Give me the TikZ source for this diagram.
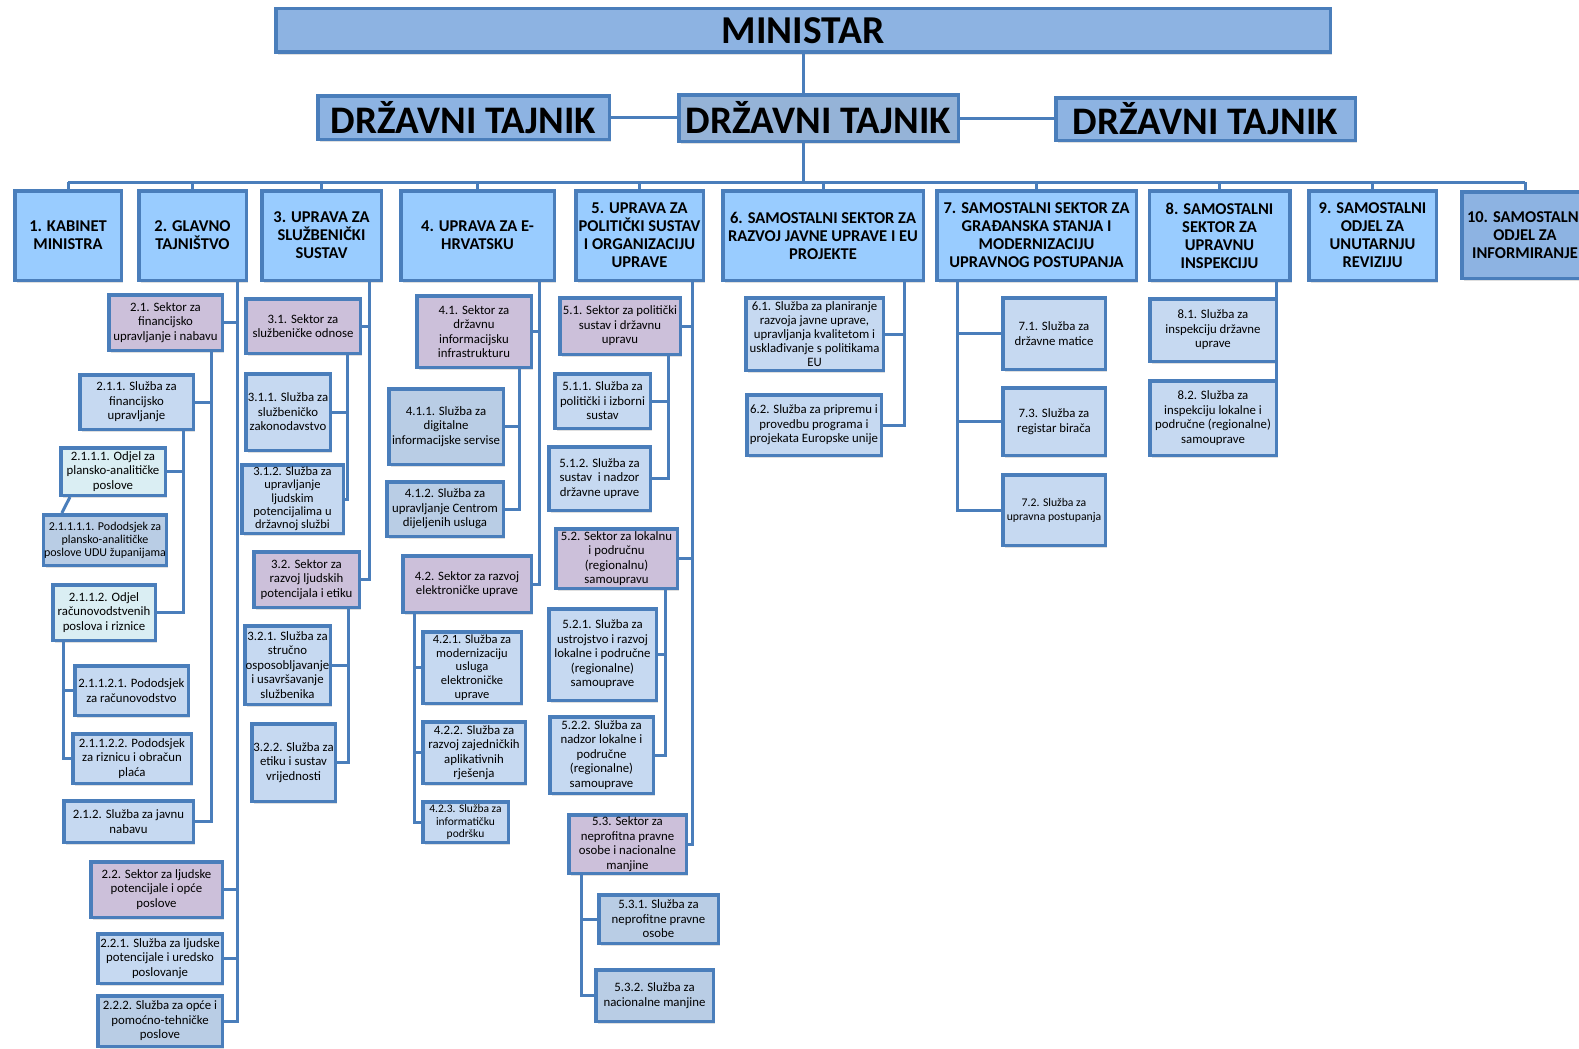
\documentclass[tikz,border=0pt]{standalone}
\usepackage{fontspec}
\setmainfont{Carlito}
\usetikzlibrary{shadows}
\definecolor{edge}{HTML}{4A7EBB}
\definecolor{topfill}{HTML}{8DB3E2}
\definecolor{midfill}{HTML}{95B3D7}
\definecolor{headfill}{HTML}{99CCFF}
\definecolor{sectfill}{HTML}{CCC0DA}
\definecolor{servfill}{HTML}{C6D9F1}
\definecolor{servdark}{HTML}{B9CDE5}
\definecolor{palefill}{HTML}{DAEEF3}
\tikzset{
  box/.style={draw=edge, line width=3.5pt, align=center, inner sep=0.5pt,
    drop shadow={shadow xshift=2pt, shadow yshift=-2.5pt, opacity=0.25}},
  boxsize/.style 2 args={minimum width=#1-3.5, minimum height=#2-3.5},
  chief/.style={box, fill=topfill, font=\bfseries\fontsize{39.5}{42}\selectfont},
  tajnik/.style={box, fill=topfill, font=\bfseries\fontsize{39}{42}\selectfont},
  head/.style={box, fill=headfill, font=\bfseries\fontsize{16.5}{18}\selectfont},
  sect/.style={box, fill=sectfill, font=\fontsize{12.8}{14.5}\selectfont},
  serv/.style={box, fill=servfill, font=\fontsize{12.8}{14.5}\selectfont},
  servb/.style={serv, fill=servdark},
  pale/.style={serv, fill=palefill},
  small/.style={font=\fontsize{11.7}{14}\selectfont},
  conn/.style={draw=edge, line width=3pt},
}
\begin{document}
\begin{tikzpicture}[x=1pt, y=-1pt]
\useasboundingbox (0,0) rectangle (1579,1049);

% vrh
\node[chief, boxsize={1058}{47}] (ministar) at (803,30.5) {MINISTAR};
\node[tajnik, boxsize={295}{47}] (dtl) at (463.5,117.5) {DRŽAVNI TAJNIK};
\node[tajnik, fill=midfill, boxsize={283}{50}] (dtc) at (818.5,118) {DRŽAVNI TAJNIK};
\node[tajnik, boxsize={303}{46}] (dtr) at (1205.5,119) {DRŽAVNI TAJNIK};

% ustrojstvene jedinice
\node[head, boxsize={110}{93}] (h1) at (68,235.5) {1. KABINET\\MINISTRA};
\node[head, boxsize={111}{93}] (h2) at (192.5,235.5) {2. GLAVNO\\TAJNIŠTVO};
\node[head, boxsize={123}{93}] (h3) at (321.5,235.5) {3. UPRAVA ZA\\SLUŽBENIČKI\\SUSTAV};
\node[head, boxsize={157}{93}] (h4) at (477.5,235.5) {4. UPRAVA ZA E-\\HRVATSKU};
\node[head, boxsize={131}{93}] (h5) at (639.5,235.5) {5. UPRAVA ZA\\POLITIČKI SUSTAV\\I ORGANIZACIJU\\UPRAVE};
\node[head, boxsize={204}{93}] (h6) at (823,235.5) {6. SAMOSTALNI SEKTOR ZA\\RAZVOJ JAVNE UPRAVE I EU\\PROJEKTE};
\node[head, boxsize={203}{93}] (h7) at (1036.5,235.5) {7. SAMOSTALNI SEKTOR ZA\\GRAĐANSKA STANJA I\\MODERNIZACIJU\\UPRAVNOG POSTUPANJA};
\node[head, boxsize={144}{93}] (h8) at (1219.5,235.5) {8. SAMOSTALNI\\SEKTOR ZA\\UPRAVNU\\INSPEKCIJU};
\node[head, boxsize={131}{93}] (h9) at (1372.5,235.5) {9. SAMOSTALNI\\ODJEL ZA\\UNUTARNJU\\REVIZIJU};
\node[head, fill=topfill, boxsize={130}{90}] (h10) at (1525,235) {10. SAMOSTALNI\\ODJEL ZA\\INFORMIRANJE};

% 2. glavno tajnistvo
\node[sect, boxsize={117}{59}] (n21) at (165.5,322.5) {2.1. Sektor za\\financijsko\\upravljanje i nabavu};
\node[serv, boxsize={117}{58}] (n211) at (136.5,402) {2.1.1. Služba za\\financijsko\\upravljanje};
\node[pale, boxsize={108}{51}] (n2111) at (113,471.5) {2.1.1.1. Odjel za\\plansko-analitičke\\poslove};
\node[servb, font=\fontsize{12}{13}\selectfont, boxsize={124}{54}] (n21111) at (105,540) {2.1.1.1.1. Pododsjek za\\plansko-analitičke\\poslove UDU županijama};
\node[pale, boxsize={106}{59}] (n2112) at (104,612.5) {2.1.1.2. Odjel\\računovodstvenih\\poslova i riznice};
\node[serv, boxsize={117}{53}] (n21121) at (131.5,690.5) {2.1.1.2.1. Pododsjek\\za računovodstvo};
\node[serv, boxsize={122}{53}] (n21122) at (132,758.5) {2.1.1.2.2. Pododsjek\\za riznicu i obračun\\plaća};
\node[serv, boxsize={133}{45}] (n212) at (128.5,821.5) {2.1.2. Služba za javnu\\nabavu};
\node[sect, boxsize={135}{59}] (n22) at (156.5,889.5) {2.2. Sektor za ljudske\\potencijale i opće\\poslove};
\node[serv, boxsize={128}{53}] (n221) at (160,958.5) {2.2.1. Služba za ljudske\\potencijale i uredsko\\poslovanje};
\node[servb, boxsize={128}{54}] (n222) at (160,1021) {2.2.2. Služba za opće i\\pomoćno-tehničke\\poslove};

% 3. uprava za sluzbenicki sustav
\node[sect, boxsize={118}{58}] (n31) at (303,326) {3.1. Sektor za\\službeničke odnose};
\node[serv, boxsize={88}{80}] (n311) at (288,412) {3.1.1. Služba za\\službeničko\\zakonodavstvo};
\node[serv, font=\fontsize{12.5}{13.3}\selectfont, boxsize={105}{72}] (n312) at (292.5,499) {3.1.2. Služba za\\upravljanje\\ljudskim\\potencijalima u\\državnoj službi};
\node[sect, boxsize={109}{59}] (n32) at (306.5,579.5) {3.2. Sektor za\\razvoj ljudskih\\potencijala i etiku};
\node[serv, boxsize={89}{82}] (n321) at (287.5,665) {3.2.1. Služba za\\stručno\\osposobljavanje\\i usavršavanje\\službenika};
\node[serv, boxsize={87}{81}] (n322) at (293.5,762.5) {3.2.2. Služba za\\etiku i sustav\\vrijednosti};

% 4. uprava za e-hrvatsku
\node[sect, boxsize={118}{75}] (n41) at (474,331.5) {4.1. Sektor za\\državnu\\informacijsku\\infrastrukturu};
\node[servb, boxsize={118}{79}] (n411) at (446,426.5) {4.1.1.  Služba za\\digitalne\\informacijske servise};
\node[servb, boxsize={120}{58}] (n412) at (445,509) {4.1.2. Služba za\\upravljanje Centrom\\dijeljenih usluga};
\node[sect, boxsize={132}{60}] (n42) at (467,584) {4.2. Sektor za razvoj\\elektroničke uprave};
\node[serv, font=\fontsize{12.5}{13.8}\selectfont, boxsize={102}{75}] (n421) at (472,667.5) {4.2.1. Služba za\\modernizaciju\\usluga\\elektroničke\\uprave};
\node[serv, boxsize={106}{65}] (n422) at (474,752.5) {4.2.2. Služba za\\razvoj zajedničkih\\aplikativnih\\rješenja};
\node[serv, font=\fontsize{11.5}{12.8}\selectfont, boxsize={89}{44}] (n423) at (465.5,822) {4.2.3. Služba za\\informatičku\\podršku};

% 5. uprava za politicki sustav
\node[sect, boxsize={124}{60}] (n51) at (620,326) {5.1. Sektor za politički\\sustav i državnu\\upravu};
\node[serv, boxsize={99}{58}] (n511) at (602.5,401) {5.1.1. Služba za\\politički i izborni\\sustav};
\node[serv, boxsize={105}{67}] (n512) at (599.5,478.5) {5.1.2. Služba za\\sustav~ i nadzor\\državne uprave};
\node[sect, boxsize={125}{63}] (n52) at (616.5,558.5) {5.2. Sektor za lokalnu\\i područnu\\(regionalnu)\\samoupravu};
\node[serv, boxsize={111}{95}] (n521) at (602.5,654.5) {5.2.1. Služba za\\ustrojstvo i razvoj\\lokalne i područne\\(regionalne)\\samouprave};
\node[serv, boxsize={107}{80}] (n522) at (601.5,755) {5.2.2. Služba za\\nadzor lokalne i\\područne\\(regionalne)\\samouprave};
\node[sect, boxsize={121}{62}] (n53) at (627.5,844) {5.3. Sektor za\\neprofitna pravne\\osobe i nacionalne\\manjine};
\node[servb, boxsize={123}{52}] (n531) at (658.5,919) {5.3.1. Služba za\\neprofitne pravne\\osobe};
\node[servb, boxsize={121}{55}] (n532) at (654.5,995.5) {5.3.2. Služba za\\nacionalne manjine};

% 6., 7. i 8.
\node[serv, font=\fontsize{12.8}{14}\selectfont, boxsize={141}{76}] (n61) at (814.5,334) {6.1. Služba za planiranje\\razvoja javne uprave,\\upravljanja kvalitetom i\\usklađivanje s politikama\\EU};
\node[serv, boxsize={138}{64}] (n62) at (814,425) {6.2. Služba za pripremu i\\provedbu programa i\\projekata Europske unije};
\node[serv, boxsize={106}{75}] (n71) at (1054,333.5) {7.1. Služba za\\državne matice};
\node[serv, boxsize={106}{71}] (n73) at (1054,421.5) {7.3. Služba za\\registar birača};
\node[serv, small, boxsize={106}{74}] (n72) at (1054,510) {7.2. Služba za\\upravna postupanja};
\node[serv, boxsize={130}{66}] (n81) at (1213,330) {8.1. Služba za\\inspekciju državne\\uprave};
\node[serv, boxsize={130}{78}] (n82) at (1213,418) {8.2. Služba za\\inspekciju lokalne i\\područne (regionalne)\\samouprave};

% linije
\coordinate (bus) at (0,182);
\coordinate (t2) at (237,0);
\coordinate (t21) at (211,0);
\coordinate (t211) at (183,0);
\coordinate (t2112) at (63,0);
\coordinate (t3) at (369,0);
\coordinate (t31) at (347,0);
\coordinate (t32) at (348,0);
\coordinate (t4) at (539,0);
\coordinate (t41) at (519,0);
\coordinate (t42) at (414,0);
\coordinate (t5) at (692,0);
\coordinate (t51) at (668,0);
\coordinate (t52) at (665,0);
\coordinate (t53) at (581,0);
\coordinate (t6) at (904,0);
\coordinate (t7) at (957,0);
\coordinate (t8) at (1276,0);

\draw[conn] (ministar.south) -- (ministar.south |- dtc.north)
      (dtl.east) -- (dtl.east -| dtc.west)
      (dtc.east) -- (dtc.east -| dtr.west)
      (dtc.south -| ministar.south) -- (bus -| ministar.south)
      (h1.north |- bus) -- (h10.north |- bus);
\draw[conn] (h1.north) -- (h1.north |- bus)
      (h2.north) -- (h2.north |- bus)
      (h3.north) -- (h3.north |- bus)
      (h4.north) -- (h4.north |- bus)
      (h5.north) -- (h5.north |- bus)
      (h6.north) -- (h6.north |- bus)
      (h7.north) -- (h7.north |- bus)
      (h8.north) -- (h8.north |- bus)
      (h9.north) -- (h9.north |- bus)
      (h10.north) -- (h10.north |- bus);

\draw[conn] (h2.south -| t2) |- (n222.east)
      (n21.east) -- (n21.east -| t2)
      (n22.east) -- (n22.east -| t2)
      (n221.east) -- (n221.east -| t2);
\draw[conn] (n21.south -| t21) |- (n212.east)
      (n211.east) -- (n211.east -| t21);
\draw[conn] (n211.south -| t211) |- (n2112.east)
      (n2111.east) -- (n2111.east -| t211);
\draw[conn] ([xshift=11pt]n2111.south west) -- ([xshift=20pt]n21111.north west);
\draw[conn] (n2112.south -| t2112) |- (n21122.west)
      (n21121.west) -- (n21121.west -| t2112);

\draw[conn] (h3.south -| t3) |- (n32.east)
      (n31.east) -- (n31.east -| t3);
\draw[conn] (n31.south -| t31) |- (n312.east)
      (n311.east) -- (n311.east -| t31);
\draw[conn] (n32.south -| t32) |- (n322.east)
      (n321.east) -- (n321.east -| t32);

\draw[conn] (h4.south -| t4) |- (n42.east)
      (n41.east) -- (n41.east -| t4);
\draw[conn] (n41.south -| t41) |- (n412.east)
      (n411.east) -- (n411.east -| t41);
\draw[conn] (n42.south -| t42) |- (n423.west)
      (n421.west) -- (n421.west -| t42)
      (n422.west) -- (n422.west -| t42);

\draw[conn] (h5.south -| t5) |- (n53.east)
      (n51.east) -- (n51.east -| t5)
      (n52.east) -- (n52.east -| t5);
\draw[conn] (n51.south -| t51) |- (n512.east)
      (n511.east) -- (n511.east -| t51);
\draw[conn] (n52.south -| t52) |- (n522.east)
      (n521.east) -- (n521.east -| t52);
\draw[conn] (n53.south -| t53) |- (n532.west)
      (n531.west) -- (n531.west -| t53);

\draw[conn] (h6.south -| t6) |- (n62.east)
      (n61.east) -- (n61.east -| t6);
\draw[conn] (h7.south -| t7) |- (n72.west)
      (n71.west) -- (n71.west -| t7)
      (n73.west) -- (n73.west -| t7);
\draw[conn] (h8.south -| t8) -- (n81.north -| t8)
      (n81.south -| t8) -- (n82.north -| t8);
\end{tikzpicture}
\end{document}
